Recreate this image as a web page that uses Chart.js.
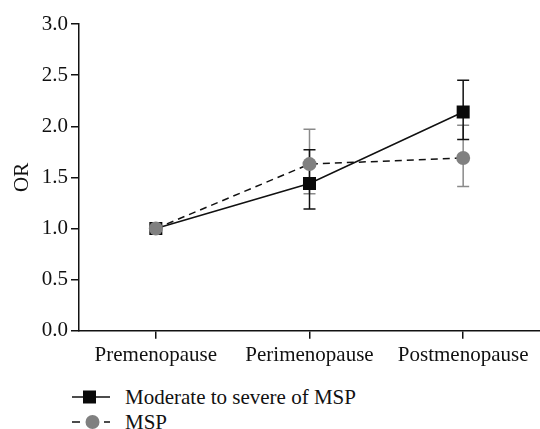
<!DOCTYPE html>
<html>
<head>
<meta charset="utf-8">
<script src="https://cdn.jsdelivr.net/npm/chart.js@4"></script>
<style>
  html, body { margin: 0; background: #fff; overflow: hidden; }
  #wrap { position: relative; width: 540px; height: 429px; font-family: 'Liberation Serif', serif; }
  #box { position: absolute; left: 0; top: 0; width: 540px; height: 373px; }
  .leg { position: absolute; left: 72px; font-size: 21px; line-height: 18px; height: 18px; color: #111; display: flex; align-items: center; }
  .leg svg { margin-right: 15px; }
</style>
</head>
<body>
<div id="wrap">
  <div id="box"><canvas id="orChart"></canvas></div>
  <div class="leg" style="top:388px">
    <svg width="38" height="16"><line x1="0" y1="8" x2="38" y2="8" stroke="#111" stroke-width="1.5"/><rect x="11" y="1.5" width="13" height="13" fill="#0a0a0a"/></svg>Moderate to severe of MSP
  </div>
  <div class="leg" style="top:413px">
    <svg width="38" height="16"><line x1="0" y1="8" x2="8" y2="8" stroke="#111" stroke-width="1.5"/><line x1="32" y1="8" x2="38" y2="8" stroke="#111" stroke-width="1.5"/><circle cx="20.5" cy="8" r="7" fill="#808080"/></svg>MSP
  </div>
</div>
<script>
const stages = ['Premenopause', 'Perimenopause', 'Postmenopause'];
const severeOR = [1.0, 1.44, 2.14];
const severeLow = [1.0, 1.19, 1.87];
const severeHigh = [1.0, 1.77, 2.45];
const mspOR = [1.0, 1.63, 1.69];
const mspLow = [1.0, 1.34, 1.41];
const mspHigh = [1.0, 1.97, 2.01];
const yTicks = [0, 0.5, 1.0, 1.5, 2.0, 2.5, 3.0];

const serif = "'Liberation Serif', serif";

// error bars drawn with the chart's own scales
const errorBars = {
    id: 'errorBars',
    beforeDatasetsDraw(chart) {
        const ctx = chart.ctx;
        const x = chart.scales.x, y = chart.scales.y;
        const sets = [
            { lo: mspLow, hi: mspHigh, color: '#8a8a8a' },
            { lo: severeLow, hi: severeHigh, color: '#111' }
        ];
        ctx.save();
        ctx.lineWidth = 1.5;
        sets.forEach(s => {
            ctx.strokeStyle = s.color;
            stages.forEach((c, i) => {
                if (s.lo[i] === s.hi[i]) return;
                const px = x.getPixelForValue(i);
                const top = y.getPixelForValue(s.hi[i]);
                const bot = y.getPixelForValue(s.lo[i]);
                ctx.beginPath();
                ctx.moveTo(px, top); ctx.lineTo(px, bot);
                ctx.moveTo(px - 6, top); ctx.lineTo(px + 6, top);
                ctx.moveTo(px - 6, bot); ctx.lineTo(px + 6, bot);
                ctx.stroke();
            });
        });
        ctx.restore();
    }
};

const ctx = document.getElementById('orChart').getContext('2d');
const orChart = new Chart(ctx, {
    type: 'line',
    data: {
        labels: stages,
        datasets: [{
            label: 'Moderate to severe of MSP',
            data: severeOR,
            borderColor: '#111',
            backgroundColor: '#0a0a0a',
            borderWidth: 1.5,
            pointStyle: 'rect',
            pointRadius: 9.2,
            pointBorderWidth: 0,
            order: 1
        }, {
            label: 'MSP',
            data: mspOR,
            borderColor: '#111',
            backgroundColor: '#808080',
            borderWidth: 1.5,
            borderDash: [7, 5],
            pointStyle: 'circle',
            pointRadius: 7,
            pointBorderWidth: 0,
            order: 0
        }]
    },
    options: {
        responsive: true,
        maintainAspectRatio: false,
        animation: false,
        layout: { autoPadding: false, padding: { top: 24, right: 0, bottom: 1, left: 10 } },
        plugins: { legend: { display: false }, tooltip: { enabled: false } },
        scales: {
            x: {
                offset: true,
                grid: { display: true, drawOnChartArea: false, tickLength: 8, color: '#111', lineWidth: 1.5 },
                border: { display: true, color: '#111', width: 1.5 },
                ticks: { color: '#111', font: { family: serif, size: 21 }, padding: 4, maxRotation: 0 }
            },
            y: {
                min: 0,
                max: 3,
                afterBuildTicks: axis => { axis.ticks = yTicks.map(v => ({ value: v })); },
                afterFit: axis => { axis.width = 69; },
                grid: { display: true, drawOnChartArea: false, tickLength: 8, color: '#111', lineWidth: 1.5 },
                border: { display: true, color: '#111', width: 1.5 },
                ticks: { color: '#111', font: { family: serif, size: 21 }, padding: 3, callback: v => v.toFixed(1) },
                title: { display: true, text: 'OR', color: '#111', font: { family: serif, size: 21 }, padding: 0 }
            }
        }
    },
    plugins: [errorBars]
});
</script>
</body>
</html>
